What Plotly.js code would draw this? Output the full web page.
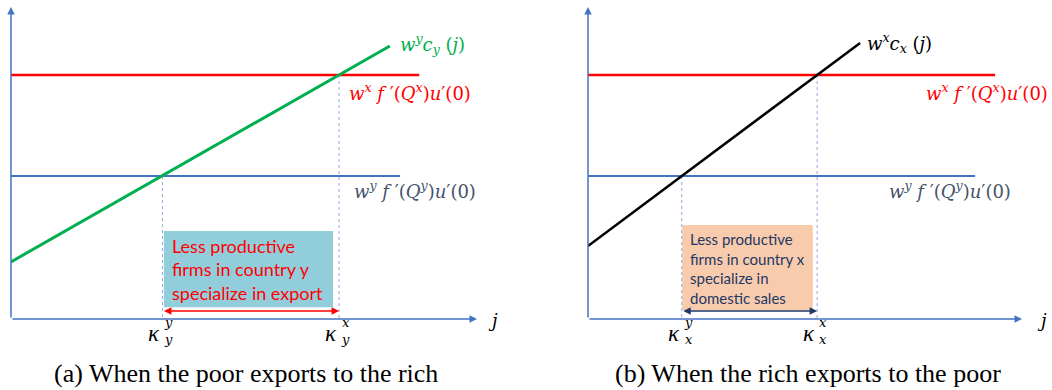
<html lang="en">
  <head>
    <meta charset="UTF-8" />
    <title>Specialization diagrams</title>
    <script src="https://cdn.plot.ly/plotly-3.0.1.min.js"></script>
    <style>
      body { margin: 0; background: #fff; }
    </style>
  </head>
  <body>
    <div id="chart" style="width:1052px; height:390px;"></div>
    <script>
      // levels of the two horizontal lines (same in both panels)
      const redLevel = 7.82;
      const blueLevel = 4.58;

      // panel (a): poor exports to the rich
      const costJA = [0, 8.13];
      const costVA = [1.83, 8.75];
      const kappaA = [3.25, 7.04];
      const redEndA = 8.76;
      const blueEndA = 8.35;
      const boxA = [3.28, 6.91, 0.38, 2.82];

      // panel (b): rich exports to the poor
      const costJB = [0, 6.27];
      const costVB = [2.34, 8.85];
      const kappaB = [2.16, 5.28];
      const redEndB = 9.38;
      const blueEndB = 8.92;
      const boxB = [2.17, 5.18, 0.29, 3.01];

      const axisBlue = '#4472C4';
      const dotBlue = '#8EA9DB';
      const labelBlue = '#44546A';
      const mathFont = 'DejaVu Serif, serif';
      const boxFont = 'Lato, Open Sans, sans-serif';

      function hline(end, level, color, width, xa, ya) {
        return { x: [0, end], y: [level, level], mode: 'lines', xaxis: xa, yaxis: ya,
                 line: { color: color, width: width }, hoverinfo: 'skip' };
      }
      function vdot(k, level, xa, ya) {
        return { x: [k, k], y: [level, 0], mode: 'lines', xaxis: xa, yaxis: ya,
                 line: { color: dotBlue, width: 1, dash: 'dot' }, hoverinfo: 'skip' };
      }

      const traces = [
        hline(redEndA, redLevel, '#FF0000', 2.5, 'x', 'y'),
        hline(blueEndA, blueLevel, axisBlue, 2, 'x', 'y'),
        vdot(kappaA[0], blueLevel, 'x', 'y'),
        vdot(kappaA[1], redLevel, 'x', 'y'),
        { x: costJA, y: costVA, mode: 'lines', xaxis: 'x', yaxis: 'y',
          line: { color: '#00B050', width: 3 }, hoverinfo: 'skip' },

        hline(redEndB, redLevel, '#FF0000', 2.5, 'x2', 'y2'),
        hline(blueEndB, blueLevel, axisBlue, 2, 'x2', 'y2'),
        vdot(kappaB[0], blueLevel, 'x2', 'y2'),
        vdot(kappaB[1], redLevel, 'x2', 'y2'),
        { x: costJB, y: costVB, mode: 'lines', xaxis: 'x2', yaxis: 'y2',
          line: { color: '#000000', width: 2.5 }, hoverinfo: 'skip' }
      ];

      function axisArrows(xr, yr) {
        const base = { text: '', showarrow: true, arrowhead: 2, arrowsize: 1, arrowwidth: 1.5,
                       arrowcolor: axisBlue, axref: xr, ayref: yr, xref: xr, yref: yr, ax: 0, ay: 0 };
        return [Object.assign({}, base, { x: 10, y: 0 }), Object.assign({}, base, { x: 0, y: 10 })];
      }
      function span(k, color, xr, yr) {
        return { text: '', showarrow: true, arrowhead: 2, arrowsize: 1, arrowwidth: 1.5,
                 arrowside: 'end+start', arrowcolor: color, xref: xr, yref: yr,
                 axref: xr, ayref: yr, x: k[1], y: 0.26, ax: k[0], ay: 0.26 };
      }
      function label(txt, x, y, color, xr, yr, size) {
        return { text: txt, x: x, y: y, xref: xr, yref: yr, xanchor: 'left', yanchor: 'middle',
                 showarrow: false, font: { family: mathFont, size: size || 18, color: color } };
      }
      function kappa(k, sup, sub, xr, yr) {
        return [
          { text: '<i>κ</i>', x: k, y: -0.47, xref: xr, yref: yr, xanchor: 'right', yanchor: 'middle',
            xshift: 0, showarrow: false, font: { family: 'Liberation Serif, serif', size: 23, color: '#000' } },
          { text: '<i>' + sup + '</i><br><i>' + sub + '</i>', x: k, y: -0.38, xref: xr, yref: yr,
            xanchor: 'left', yanchor: 'middle', xshift: 0, showarrow: false, align: 'left',
            font: { family: mathFont, size: 13, color: '#000' } }
        ];
      }

      const fxy = (s) => '<i>w</i><sup><i>' + s + '</i></sup> <i>f</i> ′(<i>Q</i><sup><i>' + s + '</i></sup>)<i>u</i>′(0)';

      const annotations = [].concat(
        axisArrows('x', 'y'),
        axisArrows('x2', 'y2'),
        [span(kappaA, '#FF0000', 'x', 'y'), span(kappaB, '#1F3864', 'x2', 'y2')],
        [
          label('<i>w</i><sup><i>y</i></sup><i>c</i><sub><i>y</i></sub> (<i>j</i>)', 8.3, 8.81, '#00B050', 'x', 'y', 18),
          label(fxy('x'), 7.2, 7.28, '#FF0000', 'x', 'y'),
          label(fxy('y'), 7.32, 4.13, labelBlue, 'x', 'y'),
          label('<i>w</i><sup><i>x</i></sup><i>c</i><sub><i>x</i></sub> (<i>j</i>)', 6.38, 8.85, '#000000', 'x2', 'y2', 18),
          label(fxy('x'), 7.74, 7.28, '#FF0000', 'x2', 'y2'),
          label(fxy('y'), 6.9, 4.13, labelBlue, 'x2', 'y2'),
          label('<i>j</i>', 10.2, -0.05, '#000', 'x', 'y', 18),
          label('<i>j</i>', 10.3, -0.05, '#000', 'x2', 'y2', 18)
        ],
        kappa(kappaA[0], 'y', 'y', 'x', 'y'),
        kappa(kappaA[1], 'x', 'y', 'x', 'y'),
        kappa(kappaB[0], 'y', 'x', 'x2', 'y2'),
        kappa(kappaB[1], 'x', 'x', 'x2', 'y2'),
        [
          { text: 'Less productive<br>firms in country y<br>specialize in export', x: 3.41, y: 1.6,
            xref: 'x', yref: 'y', xanchor: 'left', yanchor: 'middle', align: 'left', showarrow: false,
            font: { family: boxFont, size: 18, color: '#FF0000' } },
          { text: 'Less productive<br>firms in country x<br>specialize in<br>domestic sales', x: 2.3, y: 1.62,
            xref: 'x2', yref: 'y2', xanchor: 'left', yanchor: 'middle', align: 'left', showarrow: false,
            font: { family: boxFont, size: 15, color: '#1F3864' } },
          { text: '(a) When the poor exports to the rich', x: 0.234, y: 0.043, xref: 'paper', yref: 'paper',
            xanchor: 'center', yanchor: 'middle', showarrow: false,
            font: { family: 'Liberation Serif, serif', size: 26, color: '#000' } },
          { text: '(b) When the rich exports to the poor', x: 0.768, y: 0.043, xref: 'paper', yref: 'paper',
            xanchor: 'center', yanchor: 'middle', showarrow: false,
            font: { family: 'Liberation Serif, serif', size: 26, color: '#000' } }
        ]
      );

      const shapes = [
        { type: 'rect', xref: 'x', yref: 'y', x0: boxA[0], x1: boxA[1], y0: boxA[2], y1: boxA[3],
          fillcolor: '#92CDDC', line: { width: 0 }, layer: 'below' },
        { type: 'rect', xref: 'x2', yref: 'y2', x0: boxB[0], x1: boxB[1], y0: boxB[2], y1: boxB[3],
          fillcolor: '#F8CBAD', line: { width: 0 }, layer: 'below' }
      ];

      // ranges go a bit past the axes so the labels below and right are drawn
      const yDomain = [(390 - 319 - 1.2 * 31.2) / 390, 383 / 390];
      const layout = {
        width: 1052, height: 390,
        margin: { l: 0, r: 0, t: 0, b: 0 },
        paper_bgcolor: '#fff', plot_bgcolor: 'rgba(0,0,0,0)',
        showlegend: false,
        xaxis: { visible: false, fixedrange: true, range: [0, 10.6], anchor: 'y',
                 domain: [11 / 1052, (11 + 10.6 * 46.6) / 1052] },
        yaxis: { visible: false, fixedrange: true, range: [-1.2, 10], anchor: 'x', domain: yDomain },
        xaxis2: { visible: false, fixedrange: true, range: [0, 10.6], anchor: 'y2',
                  domain: [588 / 1052, (588 + 10.6 * 43.4) / 1052] },
        yaxis2: { visible: false, fixedrange: true, range: [-1.2, 10], anchor: 'x2', domain: yDomain },
        annotations: annotations,
        shapes: shapes
      };

      Plotly.newPlot('chart', traces, layout, { displayModeBar: false, staticPlot: true });
    </script>
  </body>
</html>
